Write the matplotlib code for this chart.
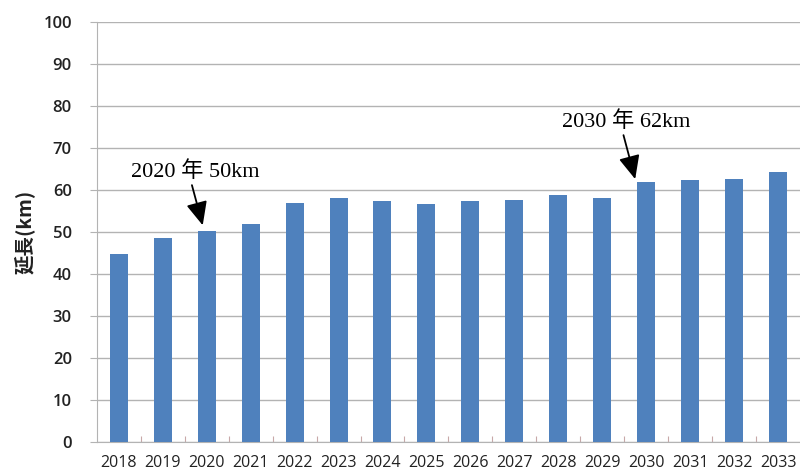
import matplotlib.pyplot as plt
import numpy as np

years = ["2018", "2019", "2020", "2021", "2022", "2023", "2024", "2025",
         "2026", "2027", "2028", "2029", "2030", "2031", "2032", "2033"]
lengths = [44.8, 48.5, 50.2, 51.8, 56.8, 58.0, 57.5, 56.7,
           57.5, 57.7, 58.8, 58.1, 61.9, 62.3, 62.6, 64.3]
y_ticks = [0, 10, 20, 30, 40, 50, 60, 70, 80, 90, 100]

BAR_COLOR = "#4f81bd"
GRID_COLOR = "#b3b3b3"

fig = plt.figure(figsize=(8, 4.74), dpi=100)
ax = fig.add_axes([0.121, 0.0675, 0.879, 0.886])

x = np.arange(len(years))
ax.bar(x, lengths, width=0.41, color=BAR_COLOR, zorder=3)

ax.set_xlim(-0.5, len(years) - 0.5)
ax.set_ylim(0, 100)
ax.set_yticks(y_ticks)
ax.set_yticklabels([str(v) for v in y_ticks], fontsize=12,
                   family="Open Sans", fontweight="semibold", color="#222222")
ax.set_xticks(x)
ax.set_xticklabels(years, fontsize=11.5, family="Open Sans", color="#222222")
ax.tick_params(axis="x", length=0, pad=9)
ax.set_xticks(np.arange(len(years) - 1) + 0.5, minor=True)
ax.tick_params(axis="x", which="minor", direction="in", length=4,
               color="#c8a8a8", width=0.8)
ax.tick_params(axis="y", length=5, color=GRID_COLOR, pad=13)

ax.grid(axis="y", color=GRID_COLOR, linewidth=1.0, zorder=0)
for side in ["top", "right"]:
    ax.spines[side].set_visible(False)
ax.spines["left"].set_color(GRID_COLOR)
ax.spines["bottom"].set_color(GRID_COLOR)

ax.set_ylabel("延長(km)", fontsize=14, family="Noto Sans CJK JP",
              fontweight="bold", color="#222222", labelpad=6)

note_font = ["Liberation Serif", "Noto Sans CJK JP"]
arrow = dict(arrowstyle="-|>,head_length=0.6,head_width=0.27", color="black",
             lw=1.3, mutation_scale=24, shrinkA=0, shrinkB=0,
             relpos=(0.45, 0.5))
ax.annotate("2020 年 50km", xy=(1.91, 51.6), xytext=(1.73, 64.3),
            ha="center", va="center", fontsize=16, family=note_font,
            arrowprops=arrow)
ax.annotate("2030 年 62km", xy=(11.75, 62.6), xytext=(11.55, 76.2),
            ha="center", va="center", fontsize=16, family=note_font,
            arrowprops=arrow)

plt.savefig("out.png", dpi=100)
plt.close()
